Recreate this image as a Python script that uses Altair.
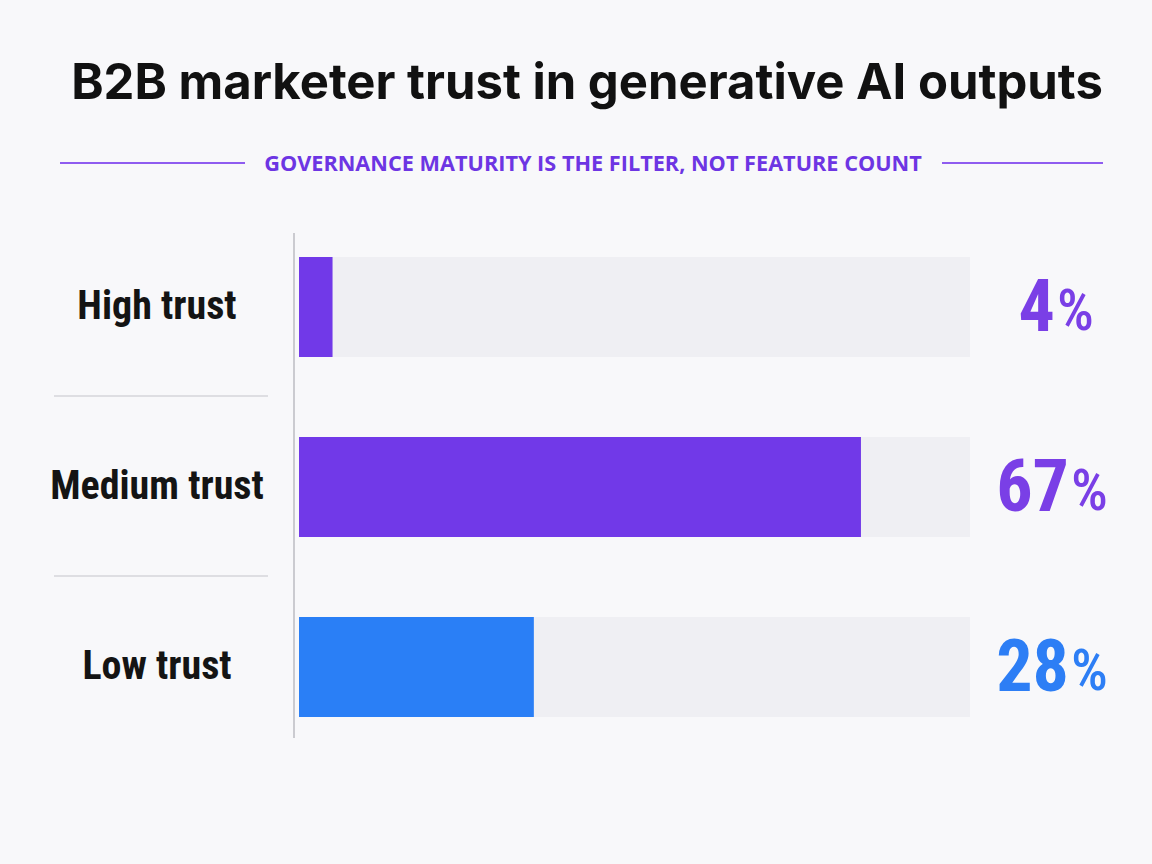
import altair as alt
import pandas as pd

# Survey result: share of B2B marketers by level of trust in generative AI outputs
levels = ["High trust", "Medium trust", "Low trust"]
shares = [4, 67, 28]
bar_colors = ["#7139e8", "#7139e8", "#2a7ff6"]
value_colors = ["#7a3fe6", "#7a3fe6", "#2d7ef5"]

TITLE = "B2B marketer trust in generative AI outputs"
SUBTITLE = "GOVERNANCE MATURITY IS THE FILTER, NOT FEATURE COUNT"
AXIS_MAX = 80

df = pd.DataFrame({
    "level": levels,
    "share": shares,
    "bar_color": bar_colors,
    "value_color": value_colors,
})
df["num"] = df["share"].astype(str)
df["track"] = AXIS_MAX

W, H = 1152, 864
BG = "#f8f8fa"
NARROW = "Liberation Sans Narrow, Roboto Condensed, Arial Narrow, Roboto"

x_scale = alt.Scale(domain=[0, AXIS_MAX], range=[299, 970], nice=False, zero=True)
y_scale = alt.Scale(domain=levels, range=[217, 757], paddingInner=0.444, paddingOuter=0.222)

base = alt.Chart(df)

track = base.mark_bar(color="#efeff3").encode(
    x=alt.X("track:Q", scale=x_scale, axis=None),
    y=alt.Y("level:N", scale=y_scale, axis=None, sort=levels),
)

bars = base.mark_bar().encode(
    x=alt.X("share:Q", scale=x_scale, axis=None),
    y=alt.Y("level:N", scale=y_scale, axis=None, sort=levels),
    color=alt.Color("bar_color:N", scale=None, legend=None),
)

cat_labels = base.mark_text(
    font=NARROW, fontSize=40, fontWeight="bold", color="#141414", align="center", baseline="middle"
).encode(
    x=alt.value(157),
    y=alt.Y("level:N", scale=y_scale, axis=None, sort=levels),
    text="level:N",
)

# separators between the category labels, halfway through the gap below each band
separators = alt.Chart(df.iloc[:2]).mark_rule(color="#d6d6da", strokeWidth=1.5, yOffset=39).encode(
    x=alt.value(54),
    x2=alt.value(268),
    y=alt.Y("level:N", scale=y_scale, axis=None, sort=levels, bandPosition=1),
)

axis_line = alt.Chart(df.iloc[:1]).mark_rule(color="#cbcbd0", strokeWidth=2).encode(
    x=alt.value(294), y=alt.value(233), y2=alt.value(738)
)

# value labels: big number followed by a lighter percent sign
numbers = base.transform_calculate(
    nx="1069 - (2 - length(datum.num)) * 14"
).mark_text(
    font=NARROW, fontSize=72, fontWeight="bold", align="right", baseline="middle", dy=2
).encode(
    x=alt.X("nx:Q", scale=None),
    y=alt.Y("level:N", scale=y_scale, axis=None, sort=levels),
    text="num:N",
    color=alt.Color("value_color:N", scale=None, legend=None),
)

percents = base.transform_calculate(
    px="1071 - (2 - length(datum.num)) * 14"
).mark_text(
    font=NARROW, fontSize=58, fontWeight=500, align="left", baseline="middle", dy=6
).encode(
    x=alt.X("px:Q", scale=None),
    y=alt.Y("level:N", scale=y_scale, axis=None, sort=levels),
    text=alt.value("%"),
    color=alt.Color("value_color:N", scale=None, legend=None),
)

title = alt.Chart(df.iloc[:1]).mark_text(
    font="Inter", fontSize=49, fontWeight="bold", color="#111111", align="center",
    baseline="middle",
).encode(x=alt.value(587), y=alt.value(84), text=alt.value(TITLE))

subtitle = alt.Chart(df.iloc[:1]).mark_text(
    font="Open Sans", fontSize=21.7, fontWeight="bold", color="#6d35e3", align="center",
    baseline="middle",
).encode(x=alt.value(593), y=alt.value(164), text=alt.value(SUBTITLE))

sub_left = alt.Chart(df.iloc[:1]).mark_rule(color="#8f5cf0", strokeWidth=2).encode(
    x=alt.value(60), x2=alt.value(245), y=alt.value(163)
)
sub_right = alt.Chart(df.iloc[:1]).mark_rule(color="#8f5cf0", strokeWidth=2).encode(
    x=alt.value(942), x2=alt.value(1103), y=alt.value(163)
)

chart = alt.layer(
    track, bars, separators, axis_line, cat_labels, numbers, percents,
    title, subtitle, sub_left, sub_right,
).properties(
    width=W, height=H, background=BG, padding=0,
    autosize=alt.AutoSizeParams(type="none"),
).configure_view(stroke=None, fill=BG)

chart.save("out.html", embed_options={"renderer": "svg", "actions": False})
